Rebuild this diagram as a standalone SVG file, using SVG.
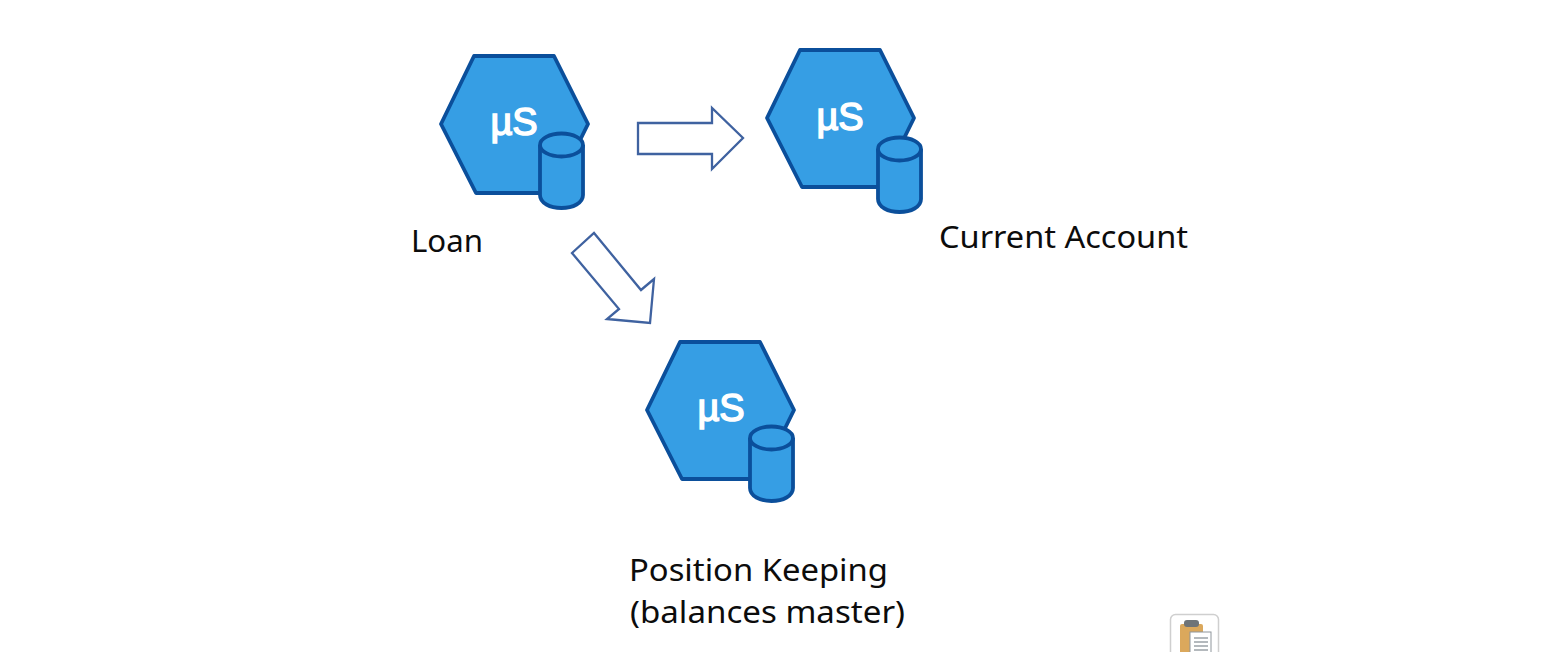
<svg xmlns="http://www.w3.org/2000/svg" width="1541" height="652" viewBox="0 0 1541 652">
<style>
.hex{fill:#369ee4;stroke:#0b4f9b;stroke-width:3.8;stroke-linejoin:round}
.cyl{fill:#369ee4;stroke:#0b4f9b;stroke-width:3.8}
.mu{font-family:"Liberation Sans",Arial,sans-serif;font-size:38px;fill:#fff;stroke:#fff;stroke-width:1.5;text-anchor:middle}
.lbl{font-family:"Noto Sans","Liberation Sans",sans-serif;font-size:31px;fill:#0c0c0c}
.arrow{fill:#fff;stroke:#3f62a0;stroke-width:2.3}
</style>
<defs>
<g id="hexshape"><polygon class="hex" points="441,124 474,56 554,56 588,124 554,193 476,193"/></g>
<g id="cylshape">
<path class="cyl" d="M540,145V195C540,203 550,208 561.500,208C573,208 583,203 583,195V145"/>
<ellipse class="cyl" cx="561.500" cy="145" rx="21.500" ry="11.500"/>
</g>
</defs>
<rect width="1541" height="652" fill="#fff"/>
<g id="connectors">
<polygon class="arrow" points="638,123 712,123 712,108 743,138 712,169 712,154 638,154"/>
<polygon class="arrow" points="572,253 594,233 641,290 654,279 650,323 607,319 619,309"/>
</g>
<g id="node-loan">
<use href="#hexshape"/><use href="#cylshape"/>
<text class="mu" x="514" y="135">µS</text>
<text class="lbl" x="411" y="252" textLength="72" lengthAdjust="spacingAndGlyphs">Loan</text>
</g>
<g id="node-current-account">
<use href="#hexshape" x="326" y="-6"/><use href="#cylshape" x="338" y="4"/>
<text class="mu" x="840" y="130">µS</text>
<text class="lbl" x="939" y="248" textLength="249" lengthAdjust="spacingAndGlyphs">Current Account</text>
</g>
<g id="node-position-keeping">
<use href="#hexshape" x="206" y="286"/><use href="#cylshape" x="210" y="293"/>
<text class="mu" x="721" y="421">µS</text>
<text class="lbl" x="629" y="581" textLength="259" lengthAdjust="spacingAndGlyphs">Position Keeping</text>
<text class="lbl" x="630" y="623" textLength="275" lengthAdjust="spacingAndGlyphs">(balances master)</text>
</g>
<g id="clipboard-icon">
<rect x="1170.500" y="614.500" width="48" height="44" rx="5" fill="#fff" stroke="#cfcfcf" stroke-width="1.500"/>
<rect x="1180" y="624" width="23" height="34" rx="2" fill="#dba85c"/>
<rect x="1184" y="620" width="15" height="7" rx="3" fill="#6f7478"/>
<rect x="1190" y="632" width="21" height="24" fill="#fff" stroke="#8f969c"/>
<path d="M1194,638H1208M1194,642H1208M1194,646H1208M1194,650H1208" stroke="#9ca3a8" stroke-width="1.500"/>
</g>
</svg>
